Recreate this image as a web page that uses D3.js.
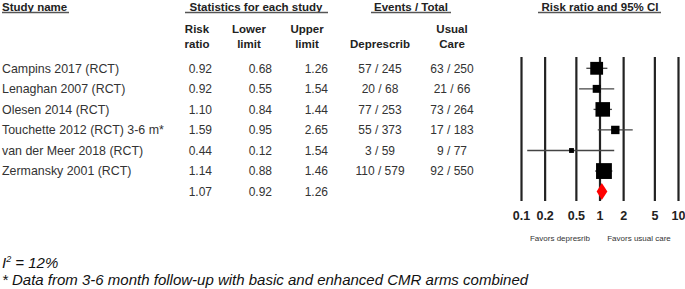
<!DOCTYPE html>
<html>
<head>
<meta charset="utf-8">
<script src="https://cdn.jsdelivr.net/npm/d3@7"></script>
<style>
  body { margin: 0; background: #fff; }
  text { font-family: Arial, "Liberation Sans", sans-serif; }
</style>
</head>
<body>
<div id="main"></div>
<script>
!(function () {
  'use strict';

  // data
  const studies = ['Campins 2017 (RCT)', 'Lenaghan 2007 (RCT)', 'Olesen 2014 (RCT)',
    'Touchette 2012 (RCT) 3-6 m*', 'van der Meer 2018 (RCT)', 'Zermansky 2001 (RCT)'];
  const riskRatio = [0.92, 0.92, 1.10, 1.59, 0.44, 1.14];
  const lowerLimit = [0.68, 0.55, 0.84, 0.95, 0.12, 0.88];
  const upperLimit = [1.26, 1.54, 1.44, 2.65, 1.54, 1.46];
  const eventsDeprescrib = ['57 / 245', '20 / 68', '77 / 253', '55 / 373', '3 / 59', '110 / 579'];
  const eventsUsual = ['63 / 250', '21 / 66', '73 / 264', '17 / 183', '9 / 77', '92 / 550'];
  const weights = [21, 8, 27, 9, 3, 32];
  const summary = { rr: 1.07, lower: 0.92, upper: 1.26 };
  const tickValues = [0.1, 0.2, 0.5, 1, 2, 5, 10];
  const tickLabels = ['0.1', '0.2', '0.5', '1', '2', '5', '10'];

  // configuration
  const canvas = { width: 685, height: 289 };
  const plot = { left: 521, right: 678, top: 57, bottom: 201 };
  const rows = { first: 68.3, step: 20.55 };

  let svg, xScale, yScale;

  function fmt(v) { return v.toFixed(2); }

  function setCanvas() {
    svg = d3.select('#main').append('svg')
      .attr('width', canvas.width)
      .attr('height', canvas.height);
  }

  function setScales() {
    xScale = d3.scaleLog().domain([0.1, 10]).range([plot.left, plot.right]);
    yScale = d3.scaleLinear().domain([0, 1]).range([rows.first, rows.first + rows.step]);
  }

  function header(text, x, y, anchor) {
    svg.append('text')
      .attr('x', x).attr('y', y)
      .attr('text-anchor', anchor || 'middle')
      .attr('font-size', 11.5).attr('font-weight', 'bold').attr('fill', '#222')
      .text(text);
  }

  function underline(x1, x2) {
    svg.append('line')
      .attr('x1', x1).attr('x2', x2).attr('y1', 12.5).attr('y2', 12.5)
      .attr('stroke', '#555').attr('stroke-width', 1.5);
  }

  function setHeaders() {
    header('Study name', 2, 11, 'start');
    underline(2, 69);
    header('Statistics for each study', 256, 11);
    underline(185, 328);
    header('Events / Total', 411, 11);
    underline(371, 451);
    header('Risk ratio and 95% CI', 600, 11);
    underline(538, 661);

    header('Risk', 197, 33); header('ratio', 197, 48);
    header('Lower', 249, 33); header('limit', 249, 48);
    header('Upper', 307, 33); header('limit', 307, 48);
    header('Usual', 452, 33); header('Care', 452, 48);
    header('Deprescrib', 380, 48);
  }

  function cell(text, x, i, anchor, size) {
    svg.append('text')
      .attr('x', x).attr('y', yScale(i))
      .attr('dy', '0.35em')
      .attr('text-anchor', anchor)
      .attr('font-size', size || 12).attr('fill', '#333')
      .text(text);
  }

  function setTable() {
    studies.forEach(function (s, i) {
      cell(s, 2, i, 'start', 12.4);
      cell(fmt(riskRatio[i]), 212, i, 'end');
      cell(fmt(lowerLimit[i]), 272, i, 'end');
      cell(fmt(upperLimit[i]), 328, i, 'end');
      cell(eventsDeprescrib[i], 380, i, 'middle');
      cell(eventsUsual[i], 452, i, 'middle');
    });
    const n = studies.length;
    cell(fmt(summary.rr), 212, n, 'end');
    cell(fmt(summary.lower), 272, n, 'end');
    cell(fmt(summary.upper), 328, n, 'end');
  }

  function setAxis() {
    const g = svg.append('g')
      .attr('transform', 'translate(0,' + plot.bottom + ')')
      .call(d3.axisBottom(xScale)
        .tickValues(tickValues)
        .tickFormat(function (d, i) { return tickLabels[i]; })
        .tickSizeInner(-(plot.bottom - plot.top))
        .tickSizeOuter(0)
        .tickPadding(10));
    g.select('.domain').remove();
    g.selectAll('.tick line').attr('stroke', '#222').attr('stroke-width', 2.2);
    g.selectAll('.tick text')
      .attr('font-size', 12.5).attr('font-weight', 'bold').attr('fill', '#222')
      .attr('font-family', 'Arial, "Liberation Sans", sans-serif');

    svg.append('text').attr('x', 560).attr('y', 241)
      .attr('text-anchor', 'middle').attr('font-size', 8).attr('fill', '#333')
      .text('Favors depresrib');
    svg.append('text').attr('x', 639).attr('y', 241)
      .attr('text-anchor', 'middle').attr('font-size', 8).attr('fill', '#333')
      .text('Favors usual care');
  }

  function setMarks() {
    const g = svg.append('g');
    studies.forEach(function (s, i) {
      const y = yScale(i);
      g.append('line')
        .attr('x1', xScale(lowerLimit[i])).attr('x2', xScale(upperLimit[i]))
        .attr('y1', y).attr('y2', y)
        .attr('stroke', '#444').attr('stroke-width', 1.3);
      const size = Math.sqrt(weights[i]) * 2.8;
      g.append('rect')
        .attr('x', xScale(riskRatio[i]) - size / 2).attr('y', y - size / 2)
        .attr('width', size).attr('height', size)
        .attr('fill', '#000');
    });
    const y = yScale(studies.length);
    const pts = [
      [xScale(summary.lower), y], [xScale(summary.rr), y - 8.5],
      [xScale(summary.upper), y], [xScale(summary.rr), y + 8.5]
    ];
    g.append('path')
      .attr('d', d3.line()(pts) + 'Z')
      .attr('fill', '#f00');
  }

  function setFootnotes() {
    const t = svg.append('text').attr('x', 2).attr('y', 268)
      .attr('font-size', 15).attr('font-style', 'italic').attr('fill', '#111');
    t.append('tspan').text('I');
    t.append('tspan').attr('dy', -6).attr('font-size', 9).text('2');
    t.append('tspan').attr('dy', 6).text(' = 12%');
    svg.append('text').attr('x', 2).attr('y', 285)
      .attr('font-size', 15).attr('font-style', 'italic').attr('fill', '#111')
      .text('* Data from 3-6 month follow-up with basic and enhanced CMR arms combined');
  }

  // control
  setCanvas();
  setScales();
  setHeaders();
  setTable();
  setAxis();
  setMarks();
  setFootnotes();
}());
</script>
</body>
</html>
